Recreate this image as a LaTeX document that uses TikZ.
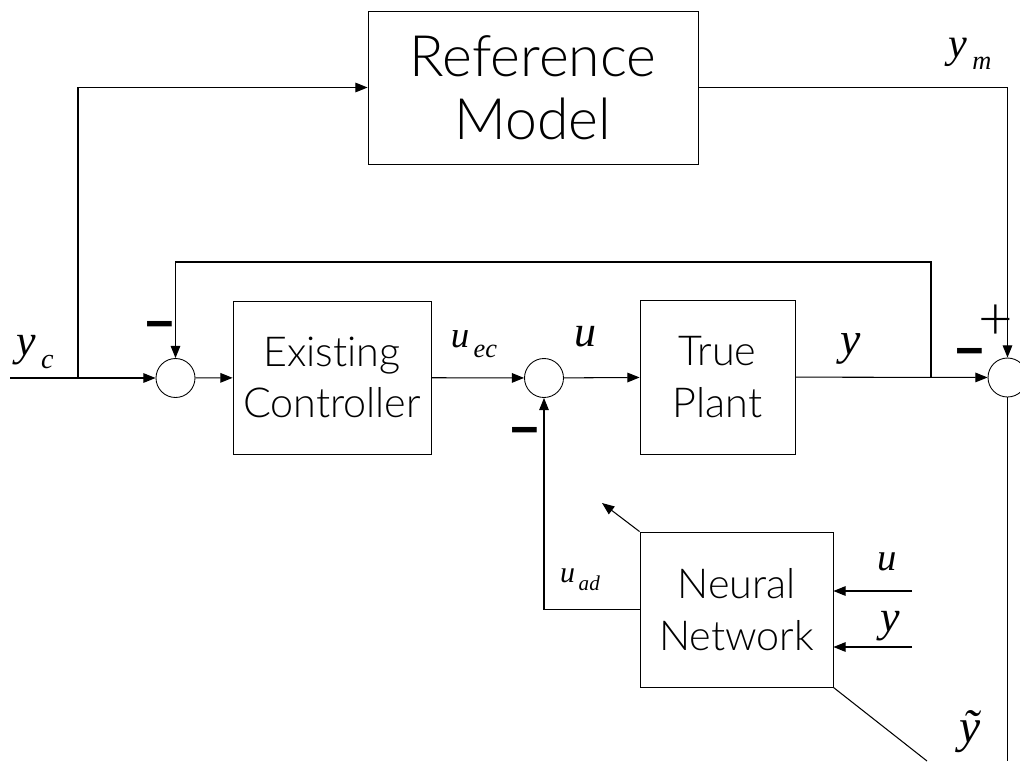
\documentclass[tikz,border=0pt]{standalone}
\usepackage{fontspec}
\setmainfont{Liberation Serif}
\IfFontExistsTF{Lato Light}{\newfontfamily\boxfont{Lato Light}[Ligatures={NoCommon}]}{\newfontfamily\boxfont{Liberation Sans}}
\newfontfamily\signfont{Liberation Sans}
\usetikzlibrary{arrows.meta}
% italic signal name with a lowered subscript
\newcommand\signame[4]{{\fontsize{#1}{#1}\selectfont\itshape #3\kern0.12em\raisebox{-0.28em}{\fontsize{#2}{#2}\selectfont #4}}}

\begin{document}
\begin{tikzpicture}[x=0.02cm,y=-0.02cm,
    blk/.style={draw,line width=0.5pt,font=\boxfont\fontsize{23.5}{29.5}\selectfont,align=center,inner sep=0pt},
    sumc/.style={draw,circle,line width=0.5pt,minimum size=0.78cm,inner sep=0pt},
    sig/.style={line width=0.6pt,-{Triangle[length=7pt,width=5.5pt]}},
    wire/.style={line width=0.6pt},
    sgn/.style={inner sep=0pt,font=\signfont\bfseries\fontsize{28}{30}\selectfont}]
  \useasboundingbox (0,0) rectangle (1020,761);
  % blocks
  \node[blk,minimum width=6.6cm,minimum height=3.06cm,font=\boxfont\fontsize{32.5}{36}\selectfont] (refm) at (533,87.5) {Reference\\Model};
  \node[blk,minimum width=3.96cm,minimum height=3.06cm] (ctrl) at (332,377.5) {Existing\\Controller};
  \node[blk,minimum width=3.1cm,minimum height=3.08cm] (plant) at (717.5,377) {True\\Plant};
  \node[blk,minimum width=3.86cm,minimum height=3.1cm] (nn) at (736.5,609.5) {Neural\\Network};
  \node[sumc] (sum1) at (175.5,378) {};
  \node[sumc] (sum2) at (544,378) {};
  \node[sumc] (sum3) at (1007.5,377.5) {};
  % helper points
  \coordinate (yc) at (10,378);
  \coordinate (tapc) at (78,378);
  \coordinate (tapy) at (931,378);
  \coordinate (fbk) at (931,262);
  \coordinate (nnupd) at (602,503);
  \coordinate (uin) at (912,591);
  \coordinate (yin) at (912,647);
  \coordinate (etil) at (927,761);
  \coordinate (eout) at (1007.5,761);
  % signals
  \draw[sig] (yc) -- (sum1);
  \draw[sig] (tapc) |- (refm);
  \draw[sig] (refm) -| (sum3);
  \draw[sig] (sum1) -- (ctrl);
  \draw[sig] (ctrl) -- (sum2);
  \draw[sig] (sum2) -- (plant);
  \draw[sig] (plant) -- (sum3);
  \draw[sig] (tapy) -- (fbk) -| (sum1);
  \draw[sig] (nn) -| (sum2);
  \draw[sig] (nn.north west) -- (nnupd);
  \draw[sig] (uin) -- (uin -| nn.east);
  \draw[sig] (yin) -- (yin -| nn.east);
  \draw[wire] (nn.south east) -- (etil);
  \draw[wire] (sum3) -- (eout);
  % labels
  \node (lym) at (970,54) {\signame{24}{15}{y}{m}};
  \node (lyc) at (35,352) {\signame{25}{16}{y}{c}};
  \node (luec) at (474,344) {\signame{21}{15}{u}{ec}};
  \node (lu) at (588,343) {\signame{25}{15}{u}{}};
  \node (ly) at (853,350) {\signame{26}{15}{y}{}};
  \node (luad) at (580,580) {\signame{17}{12}{u}{ad}};
  \node (lnu) at (889,567) {\signame{22}{15}{u}{}};
  \node (lny) at (893,628) {\signame{25}{15}{y}{}};
  \node (lyt) at (970,732) {\fontsize{27}{27}\selectfont\itshape \~{y}};
  \node[sgn] (m1) at (160,331) {−};
  \node[sgn] (m2) at (525,437) {−};
  \node[sgn] (m3) at (970,358) {−};
  \node[inner sep=0pt,font=\boxfont\fontsize{34}{36}\selectfont] (p3) at (996,322) {+};
\end{tikzpicture}
\end{document}
